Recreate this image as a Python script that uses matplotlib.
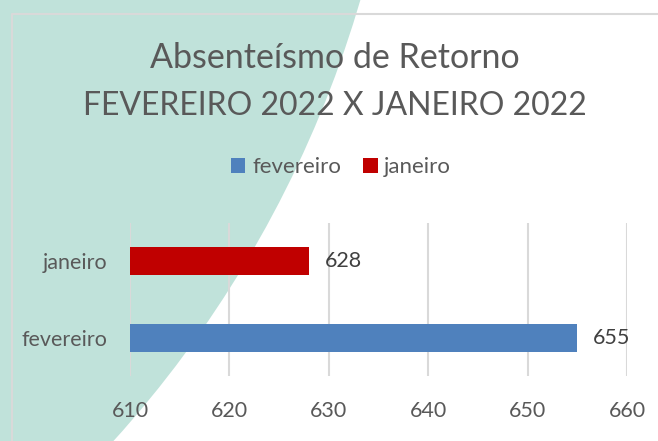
import matplotlib
matplotlib.use("Agg")
import matplotlib.pyplot as plt
from matplotlib.patches import Ellipse, Patch
from matplotlib.lines import Line2D

plt.rcParams['font.family'] = ['Lato', 'DejaVu Sans']

# data
categories = ['fevereiro', 'janeiro']
values = [655, 628]
colors = ['#4F81BD', '#C00000']
x_ticks = [610, 620, 630, 640, 650, 660]
title_lines = ['Absenteísmo de Retorno', 'FEVEREIRO 2022 X JANEIRO 2022']

text_color = '#595959'
grid_color = '#D9D9D9'

W, H = 658, 441
fig = plt.figure(figsize=(W / 100, H / 100), dpi=100)
fig.patch.set_facecolor('white')

# teal background arc (big circle off to the upper left)
cx, cy, r = -725, -318, 1131
fig.patches.append(Ellipse((cx / W, 1 - cy / H), 2 * r / W, 2 * r / H,
                           transform=fig.transFigure, facecolor='#C0E2DA',
                           edgecolor='none', zorder=-5))

# chart frame (only top and left visible)
fig.lines.append(Line2D([12 / W, 12 / W, 1], [0, 1 - 14 / H, 1 - 14 / H],
                        transform=fig.transFigure, color=grid_color, lw=1.5, zorder=-4))

ax = fig.add_axes([130 / W, 1 - 376 / H, 497 / W, 153 / H])
ax.set_zorder(2)
ax.set_facecolor('none')
ypos = list(range(len(categories)))
bars = ax.barh(ypos, [v - x_ticks[0] for v in values], left=x_ticks[0],
               height=0.368, color=colors, zorder=3)
for b, v in zip(bars, values):
    ax.text(v + 1.6, b.get_y() + b.get_height() / 2, str(v), va='center', ha='left',
            fontsize=15.5, color='#404040')

ax.set_xlim(x_ticks[0], x_ticks[-1])
ax.set_ylim(-0.5, 1.5)
ax.set_xticks(x_ticks)
ax.set_yticks(ypos)
ax.set_yticklabels(categories)
ax.tick_params(axis='both', length=0, labelsize=15.5, labelcolor=text_color)
ax.tick_params(axis='x', pad=18)
ax.tick_params(axis='y', pad=16)
ax.grid(axis='x', color=grid_color, lw=1.5, zorder=0)
for s in ax.spines.values():
    s.set_visible(False)

# title
fig.text(335 / W, 1 - 68 / H, title_lines[0], ha='center', va='baseline',
         fontsize=24.5, color=text_color)
fig.text(335 / W, 1 - 115 / H, title_lines[1], ha='center', va='baseline',
         fontsize=23, color=text_color)

handles = [Patch(facecolor=c, edgecolor='none') for c in colors]
fig.legend(handles, categories, loc='center', bbox_to_anchor=(341 / W, 1 - 167 / H),
           ncol=2, frameon=False, fontsize=16, labelcolor=text_color,
           handlelength=0.65, handleheight=0.65, handletextpad=0.3, columnspacing=1.0,
           borderpad=0, borderaxespad=0)

fig.savefig('out.png', dpi=100, facecolor=fig.get_facecolor())
